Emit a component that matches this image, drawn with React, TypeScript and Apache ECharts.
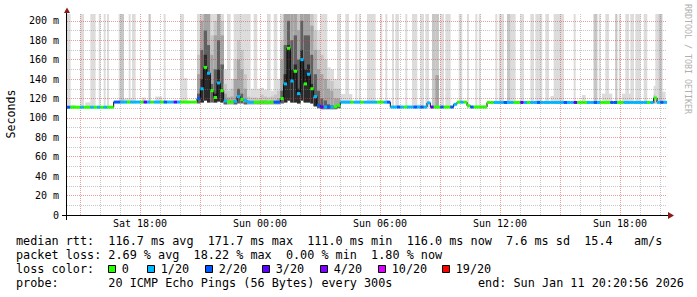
import React, { useEffect, useRef } from "react";
import * as echarts from "echarts";

// ---- time frame (hours since Sat 00:00) ----
const START_HOUR = 14 + 20 / 60 + 56 / 3600; // Sat 14:20:56
const SPAN_HOURS = 30;
const END_HOUR = START_HOUR + SPAN_HOURS;
const MEDIAN_STEP_H = 10 / 60;
const SMOKE_STEP_H = 5 / 60;
const Y_MAX = 207;

// ---- median rtt (ms) per 10-minute step ----
const medianRtt = [
  111.0, 111.0, 111.0, 111.0, 111.0, 111.0, 111.0, 111.0, 111.0, 111.0, 111.0, 111.0, 111.0, 111.0,
  116.3, 116.3, 116.3, 116.3, 116.3, 116.3, 116.3, 116.3, 116.3, 116.3, 116.3, 116.3, 116.3,
  116.3, 116.3, 116.3, 116.3, 116.3, 116.3, 116.3, 116.3, 116.3, 116.3, 116.3, 116.3,
  120, 130, 152, 146, 128, 121, 136, 128, 117.5, 116.5, 116.5, 117, 122, 119, 118,
  116.2, 116.2, 116.2, 116.2, 116.2, 116.2, 116.2, 116.2, 116.2, 116.2,
  120, 135, 171.7, 138, 148, 125, 160, 135, 145, 130, 122, 113, 111.3, 111.2, 111.3, 111.2, 111.5, 113,
  116.2, 116.2, 116.2, 116.2, 116.2, 116.2, 116.2, 116.2, 116.2, 116.2, 116.2, 116.2, 116.2, 116.2, 116.2,
  111.2, 111.2, 111.2, 111.2, 111.2, 111.2, 111.2, 111.2, 111.2, 111.2, 111.2,
  115.5,
  111.2, 111.2, 111.2, 111.2, 111.2, 111.2, 111.2,
  114,
  116.2, 116.2, 116.2,
  112.5,
  111.2, 111.2, 111.2, 111.2, 111.2,
  115.9, 115.9, 115.9, 115.9, 115.9, 115.9, 115.9, 115.9, 115.9, 115.9,
  115.9, 115.9, 115.9, 115.9, 115.9, 115.9, 115.9, 115.9, 115.9, 115.9,
  115.9, 115.9, 115.9, 115.9, 115.9, 115.9, 115.9, 115.9, 115.9, 115.9,
  115.9, 115.9, 115.9, 115.9, 115.9, 115.9, 115.9, 115.9, 115.9, 115.9,
  115.9, 115.9, 115.9, 115.9, 115.9, 115.9, 115.9, 115.9, 115.9, 115.9,
  120.5,
  116, 116, 116,
];

// ---- lost pings (of 20) per 10-minute step ----
const lossCount = [
  2, 0, 0, 0, 1, 0, 0, 1, 0, 1, 0, 1, 0, 0,
  2, 2, 1, 1, 0, 1, 1, 1, 0, 3, 1, 0, 1, 1, 0, 2, 1, 1, 3, 1, 0, 0, 0, 0, 0,
  2, 1, 0, 1, 0, 0, 1, 0, 1, 0, 0, 1, 1, 0, 1,
  1, 1, 0, 0, 0, 0, 0, 0, 2, 2,
  0, 1, 0, 1, 0, 1, 1, 0, 1, 0, 1, 2, 3, 1, 2, 1, 0, 0,
  1, 1, 1, 0, 1, 1, 0, 1, 1, 1, 1, 0, 0, 1, 2,
  1, 1, 2, 1, 0, 1, 1, 2, 1, 2, 1,
  1,
  3, 0, 0, 2, 0, 0, 2,
  1,
  0, 1, 0,
  0,
  2, 0, 0, 0, 0,
  0, 0, 1, 1, 1, 2, 1, 1, 0, 0,
  3, 1, 0, 1, 1, 2, 1, 1, 1, 1,
  1, 1, 1, 2, 1, 1, 3, 0, 0, 0,
  1, 1, 2, 1, 0, 0, 0, 2, 2, 0,
  0, 1, 1, 1, 1, 1, 1, 1, 0, 1,
  0,
  1, 2, 1,
];

// ---- smoke (ping spread), per 5-minute step:
// [step, steps, lowest, blackTop, darkTop, midTop, paleTop, highest] in ms
const smokeSteps = [
  // small spreads
  [2, 3, 110, 110, 110, 110, 110, 113.5],
  [11, 3, 110, 110, 110, 110, 110, 116],
  [33, 8, 115, 115, 115, 115, 115, 120],
  [45, 2, 115, 115, 115, 115, 115, 121],
  [53, 4, 115, 115, 115, 115, 115, 122],
  [70, 2, 115, 115, 115, 115, 115, 141],
  // single slow pings
  [0, 2, 110, 110, 110, 110, 110, 207],
  [8, 2, 110, 110, 110, 110, 110, 207],
  [14, 3, 110, 110, 110, 110, 110, 207],
  [19, 1, 110, 110, 110, 110, 110, 207],
  [22, 1, 110, 110, 110, 110, 110, 207],
  [24, 1, 110, 110, 110, 110, 110, 207],
  [31, 1, 115, 115, 115, 115, 115, 207],
  [32, 2, 115, 115, 115, 115, 207, 207],
  [37, 1, 115, 115, 115, 115, 115, 207],
  [39, 2, 115, 115, 115, 115, 115, 207],
  [49, 1, 115, 115, 115, 115, 207, 207],
  [58, 1, 115, 115, 115, 115, 115, 207],
  [68, 2, 115, 115, 115, 115, 115, 207],
  // first congestion period
  [78, 2, 115, 115, 125, 145, 165, 207],
  [80, 2, 116, 140, 170, 200, 207, 207],
  [82, 2, 118, 165, 190, 207, 207, 207],
  [84, 2, 116, 145, 175, 207, 207, 207],
  [86, 2, 116, 116, 135, 165, 185, 207],
  [88, 2, 116, 125, 150, 185, 200, 207],
  [90, 2, 117, 150, 180, 207, 207, 207],
  [92, 2, 116, 130, 155, 185, 200, 207],
  [94, 2, 114, 114, 118, 125, 135, 150],
  [96, 2, 114, 114, 114, 121, 128, 207],
  [98, 2, 114, 114, 114, 122, 130, 140],
  [100, 2, 114, 114, 118, 140, 160, 207],
  [102, 2, 115, 115, 130, 160, 180, 207],
  [104, 2, 115, 115, 125, 150, 170, 207],
  [106, 2, 114, 114, 116, 130, 145, 207],
  [108, 2, 114, 114, 114, 118, 122, 207],
  [110, 2, 114, 114, 114, 117, 121, 130],
  [112, 2, 114, 114, 114, 117, 121, 207],
  [114, 2, 114, 114, 114, 117, 120, 130],
  [116, 2, 114, 114, 114, 118, 124, 131],
  [118, 2, 114, 114, 114, 118, 122, 129],
  [120, 2, 114, 114, 114, 117, 121, 207],
  [122, 2, 114, 114, 114, 118, 122, 128],
  [124, 2, 114, 114, 114, 118, 124, 207],
  [126, 2, 114, 114, 114, 120, 128, 140],
  // second congestion period
  [128, 2, 115, 115, 128, 160, 180, 207],
  [130, 2, 116, 145, 175, 207, 207, 207],
  [132, 2, 118, 175, 200, 207, 207, 207],
  [134, 2, 116, 150, 180, 207, 207, 207],
  [136, 2, 116, 155, 185, 207, 207, 207],
  [138, 2, 115, 130, 160, 190, 207, 207],
  [140, 2, 118, 170, 200, 207, 207, 207],
  [142, 2, 116, 150, 185, 207, 207, 207],
  [144, 2, 116, 155, 185, 207, 207, 207],
  [146, 2, 115, 135, 165, 195, 207, 207],
  [148, 2, 112, 120, 145, 170, 190, 207],
  [150, 2, 110, 110, 128, 150, 170, 190],
  [152, 2, 109, 109, 120, 145, 165, 207],
  [154, 2, 109, 109, 118, 140, 160, 207],
  [156, 2, 109, 109, 114, 130, 140, 152],
  [158, 2, 109, 109, 113, 128, 138, 150],
  [160, 2, 109, 109, 111, 120, 130, 140],
  [162, 2, 110, 110, 112, 120, 130, 207],
  // small spreads later
  [164, 7, 115, 115, 115, 115, 115, 124.6],
  [209, 3, 110, 110, 110, 110, 110, 113.6],
  [245, 7, 110, 110, 110, 110, 110, 113],
  [290, 2, 115, 115, 115, 115, 115, 122.5],
  [309, 2, 115, 115, 115, 115, 115, 123.6],
  [321, 6, 115, 115, 115, 115, 115, 125],
  [333, 6, 115, 115, 115, 115, 115, 125],
  [352, 2, 115, 115, 115, 118, 124, 133],
  [357, 2, 115, 115, 115, 115, 115, 127],
  // single slow pings later
  [167, 2, 115, 115, 115, 115, 115, 207],
  [173, 1, 115, 115, 115, 115, 115, 207],
  [175, 1, 115, 115, 115, 115, 115, 207],
  [180, 5, 115, 115, 115, 115, 115, 207],
  [188, 1, 115, 115, 115, 115, 115, 207],
  [191, 1, 115, 115, 115, 115, 115, 207],
  [195, 1, 110, 110, 110, 110, 110, 207],
  [197, 2, 110, 110, 110, 110, 110, 207],
  [203, 1, 110, 110, 110, 110, 110, 207],
  [207, 3, 110, 110, 110, 110, 110, 207],
  [212, 2, 110, 110, 110, 110, 110, 207],
  [215, 2, 110, 110, 110, 110, 110, 207],
  [219, 3, 110, 110, 110, 110, 207, 207],
  [221, 2, 110, 110, 110, 144, 207, 207],
  [224, 2, 110, 110, 110, 110, 110, 207],
  [227, 3, 110, 110, 110, 110, 110, 207],
  [235, 2, 115, 115, 115, 115, 115, 207],
  [240, 1, 110, 110, 110, 110, 110, 207],
  [245, 1, 110, 110, 110, 110, 110, 207],
  [247, 1, 110, 110, 110, 110, 110, 207],
  [257, 1, 115, 115, 115, 115, 115, 207],
  [259, 3, 115, 115, 115, 115, 115, 207],
  [264, 2, 115, 115, 115, 115, 207, 207],
  [266, 3, 115, 115, 115, 115, 115, 207],
  [272, 2, 115, 115, 115, 115, 115, 207],
  [278, 2, 115, 115, 115, 115, 115, 207],
  [281, 4, 115, 115, 115, 115, 115, 207],
  [287, 2, 115, 115, 115, 115, 115, 207],
  [292, 6, 115, 115, 115, 115, 115, 207],
  [304, 1, 115, 115, 115, 115, 115, 207],
  [316, 2, 115, 115, 115, 115, 207, 207],
  [319, 1, 115, 115, 115, 115, 115, 207],
  [323, 2, 115, 115, 115, 115, 115, 207],
  [329, 1, 115, 115, 115, 115, 207, 207],
  [331, 1, 115, 115, 115, 115, 115, 207],
  [335, 2, 115, 115, 115, 115, 115, 207],
  [338, 2, 115, 115, 115, 115, 115, 207],
  [341, 3, 115, 115, 115, 115, 115, 207],
  [346, 2, 115, 115, 115, 115, 115, 207],
  [353, 2, 115, 115, 115, 115, 115, 207],
  [355, 2, 115, 115, 115, 115, 207, 207],
];

// ---- axis ticks / labels ----
const hourGrid = [16, 17, 19, 20, 22, 23, 25, 26, 28, 29, 31, 32, 34, 35, 37, 38, 40, 41, 43, 44];
const threeHourGrid = [15, 18, 21, 24, 27, 30, 33, 36, 39, 42];
const timeLabelHours = [18, 24, 30, 36, 42];
const timeLabelTexts = ["Sat 18:00", "Sun 00:00", "Sun 06:00", "Sun 12:00", "Sun 18:00"];
const yMinorGrid = [10, 30, 50, 70, 90, 110, 130, 150, 170, 190];
const yMajorGrid = [20, 40, 60, 80, 100, 120, 140, 160, 180, 200];
const yLabelValues = [0, 20, 40, 60, 80, 100, 120, 140, 160, 180, 200];

// ---- legend ----
const statsRtt = "median rtt:  116.7 ms avg  171.7 ms max  111.0 ms min  116.0 ms now  7.6 ms sd  15.4   am/s";
const statsLoss = "packet loss: 2.69 % avg  18.22 % max  0.00 % min  1.80 % now";
const lossTitle = "loss color:";
const lossLabels = ["0", "1/20", "2/20", "3/20", "4/20", "10/20", "19/20"];
const lossThresholds = [0, 1, 2, 3, 4, 10, 19];
const lossColors = ["#26ff00", "#00b8ff", "#0059ff", "#5e00ff", "#7e00ff", "#dd00ff", "#ff0000"];
const probeText = "probe:       20 ICMP Echo Pings (56 Bytes) every 300s";
const endText = "end: Sun Jan 11 20:20:56 2026";
const yTitle = "Seconds";
const watermark = "RRDTOOL / TOBI OETIKER";

// layout
const lossKeyX = [108, 147, 205, 262, 320, 378, 442];
const MONO = "DejaVu Sans Mono";
// highest -> pale -> mid -> dark -> black
const SMOKE_COLORS = ["#dcdcdc", "#c6c6c6", "#a4a4a4", "#606060", "#2a2a2a"];
const MINOR_GRID = "rgba(130,130,130,0.45)";
const MAJOR_GRID = "rgba(215,60,60,0.5)";

function lossColor(n: number): string {
  let c = lossColors[0];
  for (let k = 0; k < lossThresholds.length; k++) if (n >= lossThresholds[k]) c = lossColors[k];
  return c;
}

export default function App() {
  const ref = useRef<HTMLDivElement>(null);
  useEffect(() => {
    if (!ref.current) return;
    const chart = echarts.init(ref.current, undefined, { renderer: "svg" });

    const smokeData = smokeSteps.map(([s, n, b, k, d, m, p, t]) => [
      START_HOUR + s * SMOKE_STEP_H,
      START_HOUR + (s + n) * SMOKE_STEP_H,
      b, k, d, m, p, t,
    ]);
    const medianData = medianRtt.map((v, i) => [
      START_HOUR + i * MEDIAN_STEP_H,
      START_HOUR + (i + 1) * MEDIAN_STEP_H,
      v,
      lossCount[i],
    ]);
    const lineData = medianRtt.map((v, i) => [START_HOUR + i * MEDIAN_STEP_H, v]);
    lineData.push([END_HOUR, medianRtt[medianRtt.length - 1]]);

    const txt = (text: string, x: number, y: number) => ({
      type: "text", x, y, z: 10,
      style: { text, fontFamily: MONO, fontSize: 11.8, fill: "#000", verticalAlign: "middle" },
    });

    const graphics: any[] = [
      txt(statsRtt, 16, 241),
      txt(statsLoss, 16, 255),
      txt(lossTitle, 16, 269),
      txt(probeText, 16, 283),
      txt(endText, 478, 283),
      { type: "text", x: 11, y: 114, rotation: Math.PI / 2, z: 10, style: { text: yTitle, fontFamily: MONO, fontSize: 11.6, fill: "#000", align: "center", verticalAlign: "middle" } },
      { type: "text", x: 688, y: 59, rotation: -Math.PI / 2, z: 10, style: { text: watermark, fontFamily: MONO, fontSize: 8.3, fill: "#b0b0b0", align: "center", verticalAlign: "middle" } },
      // axis lines, extensions and arrows
      { type: "line", z: 10, shape: { x1: 62, y1: 215.5, x2: 668, y2: 215.5 }, style: { stroke: "#000", lineWidth: 1 } },
      { type: "line", z: 10, shape: { x1: 66.5, y1: 12, x2: 66.5, y2: 220 }, style: { stroke: "#000", lineWidth: 1 } },
      { type: "polygon", z: 11, shape: { points: [[64, 13], [70, 13], [67, 7.5]] }, style: { fill: "#8b1a1a" } },
      { type: "polygon", z: 11, shape: { points: [[668, 212], [668, 219], [674, 215.5]] }, style: { fill: "#8b1a1a" } },
    ];
    lossLabels.forEach((lab, k) => {
      graphics.push({ type: "rect", z: 10, shape: { x: lossKeyX[k] + 0.5, y: 265.5, width: 7, height: 7 }, style: { fill: lossColors[k], stroke: "#000", lineWidth: 1 } });
      graphics.push(txt(lab, lossKeyX[k] + 13.7, 269));
    });

    const option: any = {
      animation: false,
      backgroundColor: "#ffffff",
      grid: { left: 67, top: 14, width: 600, height: 201, containLabel: false },
      xAxis: [
        {
          type: "value", min: START_HOUR, max: END_HOUR, z: 2,
          axisLine: { show: false },
          axisTick: { show: false, customValues: hourGrid },
          axisLabel: { show: false },
          splitLine: { show: true, lineStyle: { color: MINOR_GRID, width: 1, type: [1, 1] } },
        },
        {
          type: "value", min: START_HOUR, max: END_HOUR, z: 2, position: "bottom", offset: 0,
          axisLine: { show: false },
          axisTick: { show: false, customValues: threeHourGrid },
          axisLabel: {
            show: true, customValues: timeLabelHours, margin: 3,
            fontFamily: MONO, fontSize: 10, color: "#000",
            formatter: (v: number) => timeLabelTexts[timeLabelHours.indexOf(Math.round(v))] ?? "",
          },
          splitLine: { show: true, lineStyle: { color: MAJOR_GRID, width: 1, type: [1, 1] } },
        },
      ],
      yAxis: [
        {
          type: "value", min: 0, max: Y_MAX, z: 2,
          axisLine: { show: false },
          axisTick: { show: false, customValues: yMinorGrid },
          axisLabel: { show: false },
          splitLine: { show: true, lineStyle: { color: MINOR_GRID, width: 1, type: [1, 1] } },
        },
        {
          type: "value", min: 0, max: Y_MAX, z: 2, position: "left", offset: 0,
          axisLine: { show: false },
          axisTick: { show: false, customValues: yMajorGrid },
          axisLabel: {
            show: true, customValues: yLabelValues, margin: 8,
            fontFamily: MONO, fontSize: 10, color: "#000",
            formatter: (v: number) => (v === 0 ? "0" : `${v} m`),
          },
          splitLine: { show: true, lineStyle: { color: MAJOR_GRID, width: 1, type: [1, 1] } },
        },
      ],
      series: [
        {
          type: "custom", name: "smoke", xAxisIndex: 0, yAxisIndex: 0, z: 1, clip: true,
          encode: { x: [0, 1], y: [2, 7] },
          data: smokeData,
          renderItem: (_p: any, api: any) => {
            const x0 = api.value(0), x1 = api.value(1);
            const b = api.value(2);
            const tops = [api.value(7), api.value(6), api.value(5), api.value(4), api.value(3)];
            const children: any[] = [];
            tops.forEach((hi: number, k: number) => {
              if (hi <= b) return;
              const p0 = api.coord([x0, b]);
              const p1 = api.coord([x1, hi]);
              children.push({
                type: "rect",
                shape: { x: p0[0], y: p1[1], width: p1[0] - p0[0] + 0.3, height: p0[1] - p1[1] },
                style: { fill: SMOKE_COLORS[k] },
              });
            });
            return { type: "group", children };
          },
        },
        {
          type: "line", name: "median", xAxisIndex: 0, yAxisIndex: 0, z: 3,
          data: lineData, step: "end", showSymbol: false, symbol: "none",
          lineStyle: { color: "#000", width: 1 },
        },
        {
          type: "custom", name: "loss", xAxisIndex: 0, yAxisIndex: 0, z: 4, clip: true,
          encode: { x: [0, 1], y: 2 },
          data: medianData,
          renderItem: (_p: any, api: any) => {
            const x0 = api.value(0), x1 = api.value(1), v = api.value(2), loss = api.value(3);
            const p0 = api.coord([x0, v]);
            const p1 = api.coord([x1, v]);
            return {
              type: "rect",
              shape: { x: p0[0], y: p0[1] - 1.5, width: p1[0] - p0[0], height: 3 },
              style: { fill: lossColor(loss) },
            };
          },
        },
      ],
      graphic: graphics,
    };
    chart.setOption(option);
    return () => chart.dispose();
  }, []);
  return (
    <div
      ref={ref}
      style={{ position: "fixed", left: 0, top: 0, width: 697, height: 297, background: "#fff" }}
    />
  );
}
